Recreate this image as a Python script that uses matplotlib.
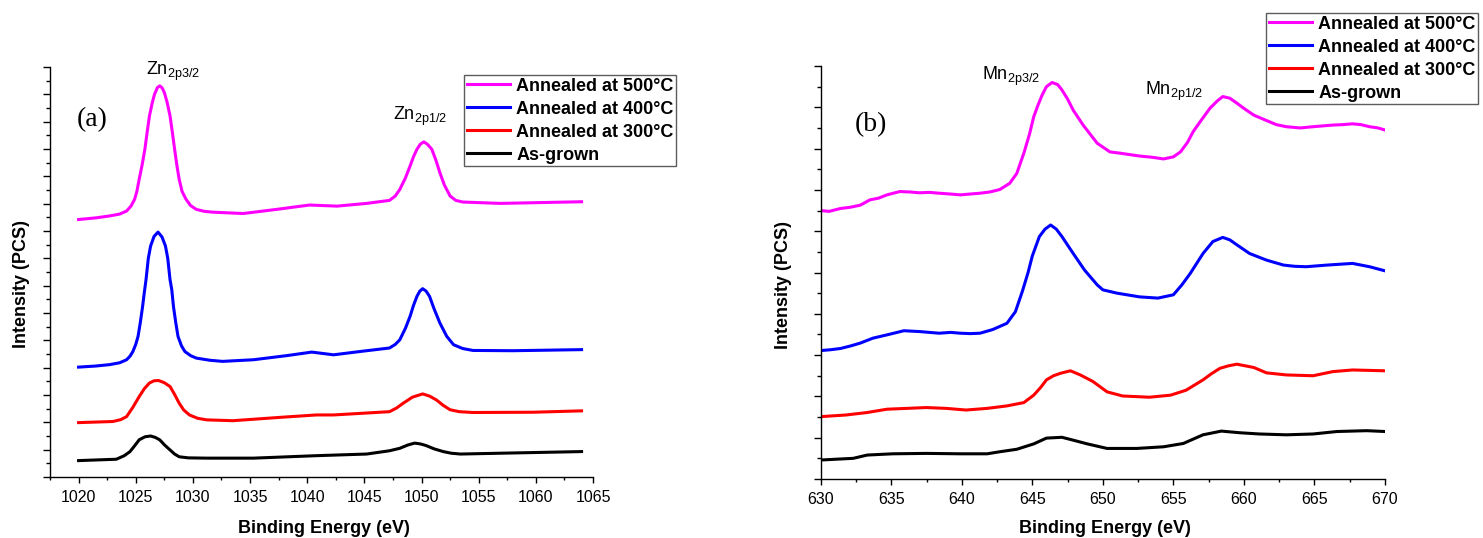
import matplotlib
matplotlib.use("Agg")
import matplotlib.pyplot as plt
from matplotlib.ticker import MultipleLocator, NullFormatter

plt.rcParams['font.family'] = ['Liberation Sans', 'DejaVu Sans']

# ---------------- Panel (a): Zn 2p ----------------
zn_500_x = [1020.0, 1021.5, 1022.7, 1023.6, 1024.2, 1024.6, 1024.9, 1025.1, 1025.3, 1025.55,
            1025.8, 1026.0, 1026.2, 1026.45, 1026.65, 1026.9, 1027.1, 1027.3, 1027.5, 1027.75,
            1028.0, 1028.2, 1028.4, 1028.6, 1028.8, 1029.05, 1029.4, 1029.8, 1030.3, 1031.0,
            1031.7, 1034.4, 1037.3, 1040.2, 1042.6, 1045.2, 1047.2, 1047.7, 1048.1, 1048.6,
            1049.0, 1049.3, 1049.6, 1049.9, 1050.2, 1050.5, 1050.9, 1051.25, 1051.6, 1052.0,
            1052.5, 1053.0, 1053.6, 1056.9, 1060.4, 1064.0]
zn_500_y = [9.42, 9.48, 9.55, 9.62, 9.73, 9.92, 10.16, 10.45, 10.89, 11.40,
            11.99, 12.62, 13.21, 13.70, 14.01, 14.25, 14.31, 14.24, 14.07, 13.70,
            13.21, 12.62, 11.99, 11.40, 10.89, 10.45, 10.16, 9.93, 9.79, 9.72,
            9.69, 9.64, 9.79, 9.95, 9.91, 10.01, 10.12, 10.28, 10.52, 10.95,
            11.38, 11.72, 11.99, 12.18, 12.26, 12.18, 11.99, 11.60, 11.14, 10.68,
            10.28, 10.12, 10.06, 10.01, 10.04, 10.07]

zn_400_x = [1020.0, 1021.5, 1022.7, 1023.6, 1024.2, 1024.5, 1024.75, 1025.0, 1025.2, 1025.4,
            1025.6, 1025.75, 1025.9, 1026.1, 1026.3, 1026.6, 1026.95, 1027.3, 1027.6, 1027.8,
            1028.0, 1028.15, 1028.3, 1028.5, 1028.7, 1029.0, 1029.3, 1029.8, 1030.3, 1031.5,
            1032.6, 1035.3, 1038.2, 1040.4, 1042.3, 1044.6, 1047.2, 1047.7, 1048.1, 1048.6,
            1049.0, 1049.3, 1049.6, 1049.85, 1050.1, 1050.4, 1050.7, 1051.1, 1051.6, 1052.2,
            1052.8, 1053.6, 1054.5, 1058.0, 1064.0]
zn_400_y = [4.02, 4.06, 4.11, 4.18, 4.29, 4.42, 4.59, 4.85, 5.14, 5.65,
            6.24, 6.75, 7.22, 8.00, 8.45, 8.80, 8.96, 8.78, 8.45, 8.00,
            7.22, 6.86, 6.24, 5.65, 5.14, 4.80, 4.59, 4.44, 4.35, 4.27,
            4.23, 4.29, 4.44, 4.57, 4.47, 4.59, 4.72, 4.85, 5.02, 5.45,
            5.88, 6.28, 6.61, 6.80, 6.89, 6.80, 6.61, 6.15, 5.64, 5.15,
            4.84, 4.70, 4.63, 4.62, 4.66]

zn_300_x = [1020.0, 1023.0, 1023.7, 1024.2, 1024.75, 1025.3, 1025.75, 1026.2, 1026.6, 1027.0,
            1027.5, 1028.0, 1028.4, 1028.8, 1029.2, 1029.7, 1030.4, 1031.2, 1033.5, 1037.9,
            1040.8, 1042.3, 1047.2, 1047.8, 1048.4, 1049.2, 1050.1, 1050.7, 1051.3, 1051.9,
            1052.5, 1053.3, 1054.5, 1059.8, 1064.0]
zn_300_y = [1.99, 2.03, 2.10, 2.21, 2.55, 2.94, 3.23, 3.44, 3.52, 3.53,
            3.45, 3.31, 3.02, 2.70, 2.45, 2.27, 2.15, 2.09, 2.06, 2.19,
            2.27, 2.27, 2.39, 2.52, 2.70, 2.92, 3.04, 2.96, 2.82, 2.62,
            2.46, 2.39, 2.36, 2.37, 2.42]

zn_ag_x = [1020.0, 1023.3, 1024.0, 1024.5, 1024.9, 1025.3, 1025.8, 1026.3, 1026.7, 1027.1,
           1027.5, 1028.0, 1028.4, 1028.8, 1029.6, 1031.2, 1035.3, 1040.8, 1045.2, 1047.2,
           1048.1, 1048.8, 1049.4, 1049.9, 1050.4, 1051.1, 1051.9, 1052.6, 1053.4, 1056.9,
           1064.0]
zn_ag_y = [0.60, 0.65, 0.78, 0.93, 1.14, 1.36, 1.47, 1.50, 1.45, 1.36,
           1.18, 0.99, 0.84, 0.74, 0.70, 0.69, 0.69, 0.78, 0.84, 0.96,
           1.05, 1.17, 1.24, 1.21, 1.15, 1.03, 0.93, 0.87, 0.84, 0.87,
           0.93]

# ---------------- Panel (b): Mn 2p ----------------
mn_500_x = [630.0, 630.6, 631.4, 632.1, 632.8, 633.5, 634.1, 634.7, 635.6, 636.3,
            637.0, 637.7, 638.4, 639.2, 639.9, 640.6, 641.3, 642.0, 642.7, 643.4,
            643.9, 644.4, 644.8, 645.1, 645.4, 645.7, 646.0, 646.4, 646.8, 647.1,
            647.5, 647.9, 648.6, 649.1, 649.6, 650.5, 651.2, 652.6, 653.5, 654.3,
            655.0, 655.5, 656.0, 656.4, 657.0, 657.6, 658.1, 658.5, 659.0, 659.5,
            660.1, 660.7, 661.6, 662.3, 663.0, 664.0, 664.9, 665.6, 666.3, 667.0,
            667.7, 668.3, 668.9, 669.5, 670.0]
mn_500_y = [6.50, 6.48, 6.55, 6.58, 6.63, 6.76, 6.80, 6.88, 6.96, 6.95,
            6.93, 6.94, 6.92, 6.90, 6.88, 6.90, 6.92, 6.95, 7.01, 7.16,
            7.40, 7.89, 8.35, 8.77, 9.05, 9.30, 9.50, 9.60, 9.55, 9.42,
            9.20, 8.93, 8.57, 8.35, 8.13, 7.92, 7.89, 7.82, 7.79, 7.75,
            7.80, 7.92, 8.15, 8.41, 8.70, 8.98, 9.15, 9.26, 9.22, 9.10,
            8.95, 8.81, 8.68, 8.58, 8.53, 8.50, 8.53, 8.55, 8.57, 8.58,
            8.60, 8.58, 8.53, 8.50, 8.45]

mn_400_x = [630.0, 630.7, 631.4, 632.1, 632.8, 633.7, 634.7, 635.9, 637.0, 637.7,
            638.4, 639.2, 639.9, 640.6, 641.3, 642.2, 643.2, 643.8, 644.3, 644.7,
            645.0, 645.5, 645.9, 646.3, 646.7, 647.1, 647.9, 648.7, 649.6, 650.0,
            651.0, 652.6, 653.9, 655.0, 655.6, 656.2, 657.1, 657.8, 658.5, 659.0,
            659.5, 660.4, 661.6, 662.8, 663.6, 664.4, 665.9, 666.8, 667.7, 668.3,
            668.9, 670.0]
mn_400_y = [3.11, 3.13, 3.16, 3.22, 3.29, 3.41, 3.49, 3.59, 3.57, 3.55,
            3.53, 3.55, 3.53, 3.52, 3.53, 3.62, 3.77, 4.05, 4.55, 5.00,
            5.40, 5.87, 6.05, 6.15, 6.05, 5.87, 5.46, 5.06, 4.70, 4.58,
            4.50, 4.41, 4.38, 4.46, 4.70, 4.98, 5.46, 5.75, 5.85, 5.79,
            5.67, 5.46, 5.30, 5.18, 5.15, 5.14, 5.18, 5.20, 5.22, 5.18,
            5.14, 5.04]

mn_300_x = [630.0, 631.8, 633.3, 634.7, 636.1, 637.5, 638.9, 640.3, 641.8, 643.2,
            644.4, 645.1, 645.6, 646.0, 646.5, 647.0, 647.7, 648.4, 649.3, 650.3,
            651.4, 653.3, 654.8, 655.9, 657.1, 657.7, 658.3, 658.9, 659.5, 660.7,
            661.6, 663.0, 664.9, 666.3, 667.7, 670.0]
mn_300_y = [1.51, 1.55, 1.61, 1.69, 1.71, 1.73, 1.71, 1.67, 1.71, 1.77,
            1.85, 2.03, 2.22, 2.40, 2.50, 2.56, 2.62, 2.52, 2.36, 2.11,
            2.01, 1.98, 2.03, 2.15, 2.40, 2.55, 2.68, 2.74, 2.78, 2.70,
            2.57, 2.52, 2.50, 2.60, 2.64, 2.62]

mn_ag_x = [630.0, 632.3, 633.3, 635.1, 637.5, 639.9, 641.8, 642.7, 643.9, 645.1,
           646.0, 647.1, 647.9, 648.9, 650.3, 651.7, 652.4, 654.3, 655.7, 657.1,
           658.4, 659.7, 661.1, 663.0, 664.9, 666.6, 668.7, 670.0]
mn_ag_y = [0.46, 0.50, 0.58, 0.61, 0.62, 0.61, 0.61, 0.66, 0.72, 0.85,
           0.99, 1.01, 0.94, 0.85, 0.74, 0.74, 0.74, 0.78, 0.86, 1.07,
           1.16, 1.12, 1.09, 1.07, 1.09, 1.15, 1.17, 1.15]

labels = ['Annealed at 500°C', 'Annealed at 400°C', 'Annealed at 300°C', 'As-grown']
colors = ['#FF00FF', '#0000FF', '#FF0000', '#000000']

W, H = 1483, 538
fig = plt.figure(figsize=(W / 100, H / 100), dpi=100)

def px_axes(l, r, t, b):
    return fig.add_axes([l / W, 1 - b / H, (r - l) / W, (b - t) / H])

axa = px_axes(50, 593, 67, 477)
axb = px_axes(820.7, 1385, 66, 479)

for x, y, c, lab in zip([zn_500_x, zn_400_x, zn_300_x, zn_ag_x],
                        [zn_500_y, zn_400_y, zn_300_y, zn_ag_y], colors, labels):
    axa.plot(x, y, color=c, lw=2.2, label=lab, solid_joinstyle='round')
for x, y, c, lab in zip([mn_500_x, mn_400_x, mn_300_x, mn_ag_x],
                        [mn_500_y, mn_400_y, mn_300_y, mn_ag_y], colors, labels):
    axb.plot(x, y, color=c, lw=2.2, label=lab, solid_joinstyle='round')

axa.set_xlim(1017.5, 1065)
axa.set_ylim(0, 15)
axb.set_xlim(630, 670)
axb.set_ylim(0, 10)

for ax in (axa, axb):
    for s in ('top', 'right'):
        ax.spines[s].set_visible(False)
    for s in ('left', 'bottom'):
        ax.spines[s].set_linewidth(1.0)
    ax.xaxis.set_major_locator(MultipleLocator(5))
    ax.xaxis.set_minor_locator(MultipleLocator(2.5))
    ax.yaxis.set_major_locator(MultipleLocator(1))
    ax.yaxis.set_minor_locator(MultipleLocator(0.5))
    ax.yaxis.set_major_formatter(NullFormatter())
    ax.tick_params(axis='x', which='major', direction='out', length=4, width=1, labelsize=11.5, pad=5)
    ax.tick_params(axis='x', which='minor', direction='out', length=2.5, width=1)
    ax.tick_params(axis='y', which='major', direction='out', length=5, width=1)
    ax.tick_params(axis='y', which='minor', direction='out', length=3, width=1)
    ax.patch.set_alpha(0)

axa.set_xticks([1020, 1025, 1030, 1035, 1040, 1045, 1050, 1055, 1060, 1065])
axb.set_xticks([630, 635, 640, 645, 650, 655, 660, 665, 670])

# axis labels
lab_kw = dict(fontsize=13, fontweight='bold')
fig.text(324 / W, 1 - 533 / H, 'Binding Energy (eV)', ha='center', va='baseline', **lab_kw)
fig.text(1105 / W, 1 - 533 / H, 'Binding Energy (eV)', ha='center', va='baseline', **lab_kw)
fig.text(22 / W, 1 - 284 / H, 'Intensity (PCS)', rotation=90, ha='center', va='center', **lab_kw)
fig.text(784 / W, 1 - 285 / H, 'Intensity (PCS)', rotation=90, ha='center', va='center', **lab_kw)

# peak annotations
ann_fs = 13
axa.text(1025.9, 15.25, r'Zn$_{\mathregular{2p3/2}}$', fontsize=ann_fs, ha='left', va='top', clip_on=False)
axa.text(1047.5, 13.62, r'Zn$_{\mathregular{2p1/2}}$', fontsize=ann_fs, ha='left', va='top')
axb.text(641.4, 10.02, r'Mn$_{\mathregular{2p3/2}}$', fontsize=ann_fs, ha='left', va='top', clip_on=False)
axb.text(653.0, 9.66, r'Mn$_{\mathregular{2p1/2}}$', fontsize=ann_fs, ha='left', va='top')
axa.text(1019.8, 13.09, '(a)', fontsize=20, family='Liberation Serif', ha='left', va='center')
axb.text(632.4, 8.57, '(b)', fontsize=20, family='Liberation Serif', ha='left', va='center')

leg_kw = dict(loc='upper left', bbox_transform=fig.transFigure, borderaxespad=0,
              prop={'size': 13, 'weight': 'bold'}, frameon=True, fancybox=False,
              handlelength=2.4, handletextpad=0.35, labelspacing=0.33, borderpad=0.15)
la = axa.legend(bbox_to_anchor=(464 / W, 1 - 75 / H), **leg_kw)
lb = axb.legend(bbox_to_anchor=(1266 / W, 1 - 13 / H), **leg_kw)
for lg in (la, lb):
    lg.get_frame().set_edgecolor('#333333')
    lg.get_frame().set_linewidth(1.0)
    for ln in lg.get_lines():
        ln.set_linewidth(2.2)

fig.savefig('out.png', dpi=100)
